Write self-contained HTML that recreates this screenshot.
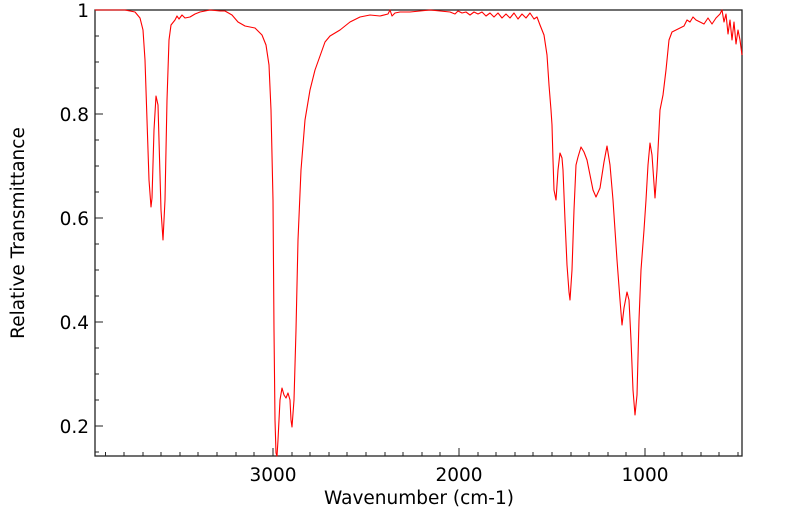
<!DOCTYPE html>
<html><head><meta charset="utf-8"><style>
body{margin:0;background:#fff;}
svg{display:block;font-family:"DejaVu Sans","Liberation Sans",sans-serif;}
</style></head><body>
<svg width="799" height="516" viewBox="0 0 799 516" xmlns="http://www.w3.org/2000/svg">
<rect width="799" height="516" fill="#fff"/>
<g stroke="#222" stroke-width="1">
<path d="M273,456v-8M459,456v-8M645,456v-8"/>
<path d="M105.5,456v-4M124,456v-4M143,456v-4M161,456v-4M180,456v-4M198,456v-4M217,456v-4M236,456v-4M254,456v-4M292,456v-4M310,456v-4M329,456v-4M347,456v-4M366,456v-4M385,456v-4M403,456v-4M422,456v-4M440,456v-4M478,456v-4M496,456v-4M515,456v-4M533,456v-4M552,456v-4M571,456v-4M589,456v-4M608,456v-4M626,456v-4M664,456v-4M682,456v-4M701,456v-4M719,456v-4M738,456v-4"/>
<path d="M95,10h8M95,114h8M95,218h8M95,322h8M95,426h8"/>
<path d="M95,36h4M95,62h4M95,88h4M95,140h4M95,166h4M95,192h4M95,244h4M95,270h4M95,296h4M95,348h4M95,374h4M95,400h4M95,452h4"/>
</g>
<rect x="95" y="10" width="647" height="446" fill="none" stroke="#222" stroke-width="1.3"/>
<polyline fill="none" stroke="#f00" stroke-width="1.1" stroke-linejoin="round" points="
95,10 110,10 125,10 130,11 135,12 140,18 143,30 145,60 147,120 149,180 151,207 152,198 154,130 156,96 158,105 159,140 161,210 163,240 165,200 167,100 169,40 171,25 175,20 177,16 179,19 182,15 185,18 190,17 195,14 200,12 210,10 220,11 225,11 232,15 238,22 245,26 255,28 262,35 266,45 269,65 271,110 273,200 274,330 275,420 276,453 277,456 278,440 280,400 282,388 284,395 286,398 288,393 290,400 291,420 292,427 294,400 296,330 298,240 301,170 305,120 310,90 315,70 320,56 325,42 330,36 340,30 350,22 360,17 370,15 380,16 388,14 390,10 392,16 395,13 400,12 410,12 420,11 430,10 440,11 450,12 455,14 458,11 462,13 466,12 470,15 474,12 478,14 482,12 486,16 490,13 494,17 498,13 502,18 506,14 510,18 514,13 518,19 522,14 526,18 530,13 534,19 537,17 540,25 544,35 547,55 549,85 551,110 552,125 553,160 554,190 556,200 558,170 560,153 562,158 563,170 565,220 567,265 569,292 570,300 572,270 574,210 576,165 578,157 581,147 584,152 587,160 590,175 593,190 596,197 600,188 604,162 607,146 610,165 613,200 617,260 620,300 622,325 624,308 627,292 629,300 631,340 633,390 635,415 637,395 639,320 641,270 644,230 646,200 648,165 650,143 652,155 655,198 657,170 660,110 663,95 666,70 669,40 672,32 676,30 680,28 684,26 687,20 690,22 693,17 696,20 700,22 704,24 708,18 712,24 716,18 720,14 722,10 724,22 726,14 728,34 730,20 732,40 734,22 736,44 738,30 740,40 742,55"/>
<g font-size="18.5" fill="#000">
<text x="89" y="17" text-anchor="end">1</text>
<text x="89" y="121" text-anchor="end">0.8</text>
<text x="89" y="225" text-anchor="end">0.6</text>
<text x="89" y="329" text-anchor="end">0.4</text>
<text x="89" y="433" text-anchor="end">0.2</text>
<text x="273" y="481" text-anchor="middle">3000</text>
<text x="459" y="481" text-anchor="middle">2000</text>
<text x="645" y="481" text-anchor="middle">1000</text>
<text x="419" y="504" text-anchor="middle">Wavenumber (cm-1)</text>
<text transform="translate(24,233) rotate(-90)" text-anchor="middle">Relative Transmittance</text>
</g>
</svg>
</body></html>
